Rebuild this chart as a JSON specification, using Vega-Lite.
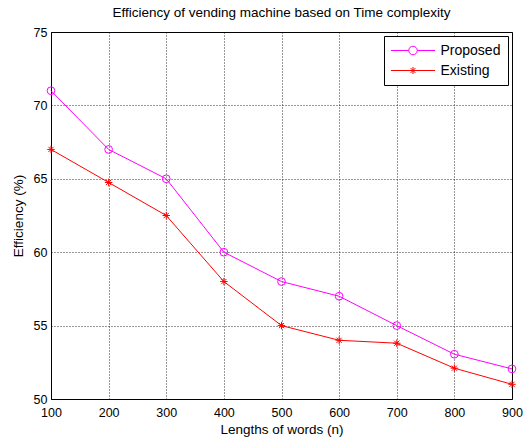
{
  "$schema": "https://vega.github.io/schema/vega-lite/v6.json",
  "width": 461,
  "height": 367,
  "autosize": "none",
  "padding": {"left": 51, "top": 32, "right": 16, "bottom": 40},
  "background": "white",
  "title": {"text": "Efficiency of vending machine based on Time complexity", "fontSize": 13.5, "fontWeight": "normal", "font": "Liberation Sans", "color": "black", "offset": 7, "anchor": "middle"},
  "config": {
    "font": "Liberation Sans",
    "view": {"stroke": "black", "strokeWidth": 1},
    "axis": {"labelColor": "black", "titleColor": "black", "titleFontWeight": "normal", "labelFontSize": 12.5, "titleFontSize": 13.5, "grid": true, "gridColor": "#000000", "gridDash": [1, 2], "gridOpacity": 0.8, "ticks": false, "domain": false, "labelFlush": false, "labelOverlap": false}
  },
  "data": {"values": [
    {"n": 100, "series": "Proposed", "eff": 71},
    {"n": 200, "series": "Proposed", "eff": 67},
    {"n": 300, "series": "Proposed", "eff": 65},
    {"n": 400, "series": "Proposed", "eff": 60},
    {"n": 500, "series": "Proposed", "eff": 58},
    {"n": 600, "series": "Proposed", "eff": 57},
    {"n": 700, "series": "Proposed", "eff": 55},
    {"n": 800, "series": "Proposed", "eff": 53.05},
    {"n": 900, "series": "Proposed", "eff": 52.05},
    {"n": 100, "series": "Existing", "eff": 67},
    {"n": 200, "series": "Existing", "eff": 64.75},
    {"n": 300, "series": "Existing", "eff": 62.5},
    {"n": 400, "series": "Existing", "eff": 58},
    {"n": 500, "series": "Existing", "eff": 55},
    {"n": 600, "series": "Existing", "eff": 54},
    {"n": 700, "series": "Existing", "eff": 53.8},
    {"n": 800, "series": "Existing", "eff": 52.1},
    {"n": 900, "series": "Existing", "eff": 51}
  ]},
  "encoding": {
    "x": {"field": "n", "type": "quantitative", "scale": {"domain": [100, 900], "nice": false, "zero": false}, "axis": {"title": "Lengths of words (n)", "values": [100, 200, 300, 400, 500, 600, 700, 800, 900], "labelPadding": 7, "titlePadding": 4}},
    "y": {"field": "eff", "type": "quantitative", "scale": {"domain": [50, 75], "nice": false, "zero": false}, "axis": {"title": "Efficiency (%)", "values": [50, 55, 60, 65, 70, 75], "labelPadding": 4, "titlePadding": 8}}
  },
  "layer": [
    {
      "mark": {"type": "line", "strokeWidth": 1},
      "encoding": {
        "color": {"field": "series", "type": "nominal", "scale": {"domain": ["Proposed", "Existing"], "range": ["#ff00ff", "#ff0000"]},
          "legend": {"title": null, "orient": "top-right", "offset": 4, "strokeColor": "black", "fillColor": "white", "padding": 7, "labelFontSize": 14, "labelColor": "black", "symbolSize": 196, "symbolOffset": 14.5, "labelOffset": 20, "rowPadding": 5, "symbolStrokeWidth": 1,
            "encode": {"symbols": {"update": {
              "shape": {"signal": "datum.value === 'Proposed' ? 'M-3.15,0L-0.61,0M0.61,0L3.15,0M-0.61,0A0.61,0.61 0 1,1 0.61,0A0.61,0.61 0 1,1 -0.61,0' : 'M-3.15,0L3.15,0M0,-0.5L0,0.5M-0.35,-0.35L0.35,0.35M-0.35,0.35L0.35,-0.35'"},
              "stroke": {"signal": "datum.value === 'Proposed' ? '#ff00ff' : '#ff0000'"},
              "fill": {"value": "transparent"},
              "strokeWidth": {"value": 1}
            }}}
          }
        }
      }
    },
    {
      "transform": [{"filter": "datum.series === 'Proposed'"}],
      "mark": {"type": "point", "shape": "circle", "filled": false, "stroke": "#ff00ff", "strokeWidth": 1, "opacity": 1, "size": 60}
    },
    {
      "transform": [{"filter": "datum.series === 'Existing'"}],
      "mark": {"type": "point", "shape": "M-1,0L1,0M0,-1L0,1M-0.7,-0.7L0.7,0.7M-0.7,0.7L0.7,-0.7", "filled": false, "stroke": "#ff0000", "strokeWidth": 1, "opacity": 1, "size": 56}
    }
  ]
}
